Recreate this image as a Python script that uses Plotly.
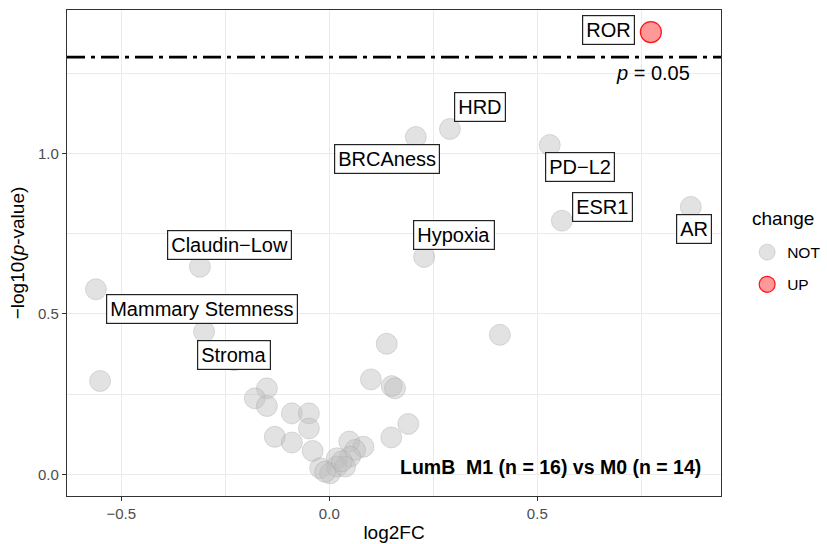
import plotly.graph_objects as go
import math

# ---- data ----
labels = ["ROR", "HRD", "BRCAness", "PD\u2212L2", "AR", "ESR1", "Hypoxia",
          "Claudin\u2212Low", "Mammary Stemness", "Stroma"]
label_fc = [0.773, 0.290, 0.208, 0.530, 0.869, 0.559, 0.228, -0.311, -0.561, -0.301]
label_p = [1.379, 1.077, 1.052, 1.027, 0.834, 0.791, 0.678, 0.647, 0.577, 0.445]
label_change = ["UP", "NOT", "NOT", "NOT", "NOT", "NOT", "NOT", "NOT", "NOT", "NOT"]

other_fc = [-0.229, -0.551, 0.410, 0.138, 0.100, 0.150, 0.158, 0.190, 0.149,
            -0.150, -0.179, -0.150, -0.090, -0.049, -0.049, -0.131, -0.090, -0.040,
            0.048, 0.082, 0.062, 0.050, 0.018, -0.022, 0.002, 0.018, -0.010, 0.038, 0.030]
other_p = [0.356, 0.291, 0.435, 0.407, 0.296, 0.275, 0.268, 0.157, 0.115,
           0.268, 0.237, 0.213, 0.190, 0.190, 0.143, 0.117, 0.099, 0.073,
           0.102, 0.086, 0.076, 0.055, 0.050, 0.019, 0.003, 0.024, 0.008, 0.024, 0.040]
other_change = ["NOT"] * len(other_fc)

# label offsets (pixels) from the point to the label box centre
label_dx = [-42, 30, -29, 30, 3, 41, 30, 30, 106, 30]
label_dy = [-2, -22, 22, 22, 22, -14, -22, -22, 20, 23]

p_cut = 0.05
subtitle = "LumB\u00a0 M1 (n = 16) vs M0 (n = 14)"
legend_title = "change"

# ---- build ----
all_fc = label_fc + other_fc
all_p = label_p + other_p
all_change = label_change + other_change

FONT = "Liberation Sans, Arial, sans-serif"
styles = {
    "NOT": dict(color="rgba(190,190,190,0.45)", line=dict(color="rgba(160,160,160,0.35)", width=1)),
    "UP": dict(color="rgba(255,0,0,0.4)", line=dict(color="rgba(255,0,0,0.9)", width=1.2)),
}

fig = go.Figure()
for grp in ["NOT", "UP"]:
    xs = [x for x, c in zip(all_fc, all_change) if c == grp]
    ys = [y for y, c in zip(all_p, all_change) if c == grp]
    fig.add_trace(go.Scatter(
        x=xs, y=ys, mode="markers", name=grp, legendgroup=grp,
        marker=dict(size=21, **styles[grp]),
    ))

thr = -math.log10(p_cut)
fig.add_shape(type="line", xref="paper", x0=0, x1=1, yref="y", y0=thr, y1=thr,
              line=dict(color="black", width=2.6, dash="18px,6px,4px,6px"))

for lab, x, y, dx, dy in zip(labels, label_fc, label_p, label_dx, label_dy):
    fig.add_annotation(x=x, y=y, text=lab, showarrow=True, ax=dx, ay=dy,
                       arrowcolor="rgba(0,0,0,0)", arrowwidth=0.1,
                       font=dict(family=FONT, size=20, color="black"),
                       bgcolor="white", bordercolor="#222222", borderwidth=1.2,
                       borderpad=3)

fig.add_annotation(x=0.871, y=1.25, xref="x", yref="y", text="<i>p</i> = 0.05",
                   showarrow=False, xanchor="right", yanchor="middle",
                   font=dict(family=FONT, size=20, color="black"))
fig.add_annotation(x=0.899, y=0.024, xref="x", yref="y", text="<b>" + subtitle + "</b>",
                   showarrow=False, xanchor="right", yanchor="middle",
                   font=dict(family=FONT, size=19.5, color="black"))
fig.add_annotation(x=1.044, y=0.572, xref="paper", yref="paper", text=legend_title,
                   showarrow=False, xanchor="left", yanchor="middle",
                   font=dict(family=FONT, size=19, color="black"))

grid = "#ebebeb"
axis_common = dict(
    showline=True, linecolor="#333333", linewidth=1.3, mirror=True,
    ticks="outside", ticklen=4, tickcolor="#333333", tickwidth=1.1,
    showgrid=True, gridcolor=grid, gridwidth=1.1, zeroline=False,
    tickfont=dict(family=FONT, size=15, color="#4d4d4d"),
    automargin=False,
)
fig.update_xaxes(range=[-0.6305, 0.9416], tickvals=[-0.5, 0, 0.5],
                 ticktext=["\u22120.5", "0.0", "0.5"],
                 minor=dict(tickvals=[-0.25, 0.25, 0.75], showgrid=True, gridcolor=grid, gridwidth=0.6, ticks=""),
                 title=dict(text="log2FC", font=dict(family=FONT, size=19, color="black"), standoff=4),
                 **axis_common)
fig.update_yaxes(range=[-0.0677, 1.448], tickvals=[0, 0.5, 1.0],
                 ticktext=["0.0", "0.5", "1.0"],
                 minor=dict(tickvals=[0.25, 0.75, 1.25], showgrid=True, gridcolor=grid, gridwidth=0.6, ticks=""),
                 title=dict(text="\u2212log10(<i>p</i>-value)", font=dict(family=FONT, size=19, color="black"), standoff=8),
                 **axis_common)

fig.update_layout(
    width=827, height=544,
    margin=dict(l=67, r=106, t=10, b=48, autoexpand=False),
    plot_bgcolor="white", paper_bgcolor="white",
    showlegend=True,
    legend=dict(
        font=dict(family=FONT, size=15.5, color="black"),
        x=1.04, xanchor="left", y=0.468, yanchor="middle",
        tracegroupgap=9, bgcolor="rgba(0,0,0,0)",
    ),
)

fig.write_html("out.html")
